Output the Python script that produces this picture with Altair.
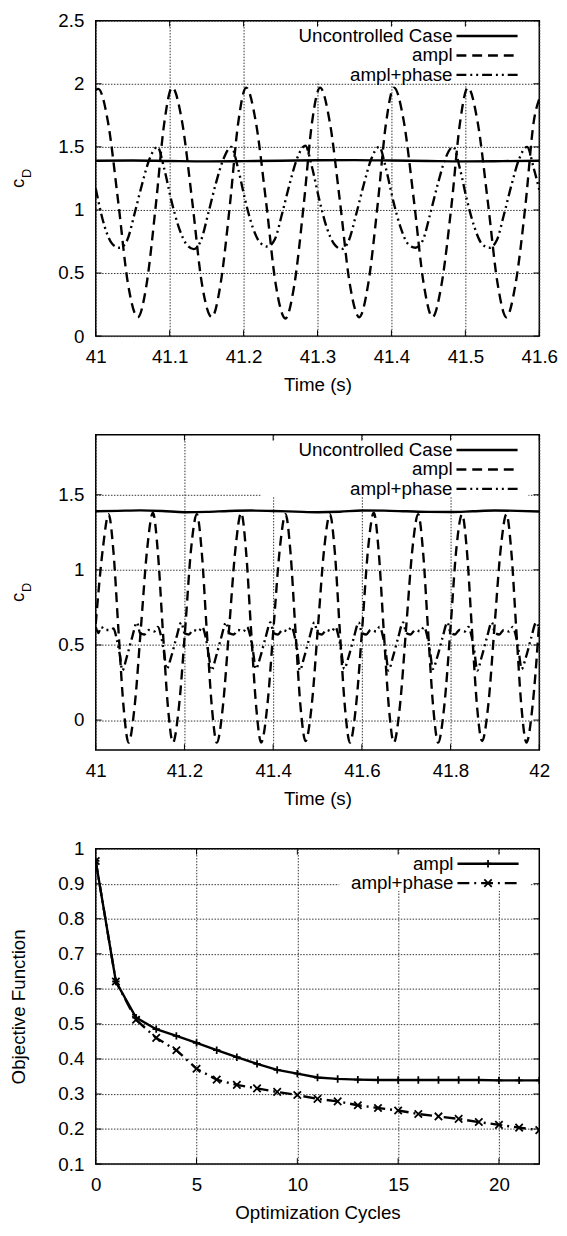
import altair as alt
import pandas as pd

FONT = "Liberation Sans"
FS = 19
W, H = 450, 320
LW = 2.4

# ---------------- Panel 1 data (cD vs time, 41 - 41.6 s) ----------------
p1_unc_t = [41.00, 41.05, 41.10, 41.15, 41.20, 41.25, 41.30, 41.35, 41.40, 41.45, 41.50, 41.55, 41.60]
p1_unc_cd = [1.390, 1.392, 1.388, 1.385, 1.387, 1.390, 1.394, 1.395, 1.392, 1.388, 1.385, 1.387, 1.390]

p1_ampl_t = [41.000, 41.0035, 41.0165, 41.0305, 41.0435, 41.0570, 41.0685, 41.0815, 41.0925,
             41.1035, 41.1165, 41.1305, 41.1435, 41.1570, 41.1685, 41.1815, 41.1925,
             41.2035, 41.2165, 41.2305, 41.2435, 41.2565, 41.2685, 41.2815, 41.2925,
             41.3035, 41.3165, 41.3305, 41.3435, 41.3565, 41.3685, 41.3815, 41.3925,
             41.4035, 41.4165, 41.4305, 41.4435, 41.4555, 41.4675, 41.4815, 41.4925,
             41.5035, 41.5165, 41.5305, 41.5435, 41.5555, 41.5675, 41.5815, 41.5925, 41.6000]
p1_ampl_cd = [1.95, 1.96, 1.70, 1.06, 0.42, 0.15, 0.40, 1.05, 1.68,
              1.97, 1.71, 1.07, 0.42, 0.15, 0.40, 1.04, 1.68,
              1.97, 1.70, 1.06, 0.41, 0.14, 0.40, 1.05, 1.69,
              1.97, 1.70, 1.06, 0.42, 0.15, 0.41, 1.05, 1.68,
              1.97, 1.71, 1.07, 0.42, 0.15, 0.40, 1.05, 1.68,
              1.97, 1.70, 1.06, 0.42, 0.15, 0.40, 1.05, 1.70, 1.88]

p1_ap_t = [41.000, 41.0125, 41.0225,
           41.0325, 41.0425, 41.0525, 41.0625, 41.0725, 41.0835, 41.0925, 41.1025, 41.1125, 41.1225,
           41.1325, 41.1425, 41.1525, 41.1625, 41.1725, 41.1835, 41.1925, 41.2025, 41.2125, 41.2225,
           41.2325, 41.2425, 41.2525, 41.2625, 41.2725, 41.2835, 41.2925, 41.3025, 41.3125, 41.3225,
           41.3325, 41.3425, 41.3525, 41.3625, 41.3725, 41.3835, 41.3925, 41.4025, 41.4125, 41.4225,
           41.4325, 41.4425, 41.4525, 41.4625, 41.4725, 41.4835, 41.4925, 41.5025, 41.5125, 41.5225,
           41.5325, 41.5425, 41.5525, 41.5625, 41.5725, 41.5835, 41.5925, 41.6000]
p1_ap_cd = [1.17, 0.86, 0.73,
            0.70, 0.76, 0.97, 1.20, 1.40, 1.50, 1.33, 1.07, 0.86, 0.73,
            0.69, 0.76, 0.98, 1.21, 1.40, 1.50, 1.33, 1.07, 0.86, 0.74,
            0.71, 0.77, 0.98, 1.21, 1.41, 1.51, 1.34, 1.08, 0.86, 0.73,
            0.69, 0.76, 0.97, 1.20, 1.40, 1.50, 1.33, 1.07, 0.86, 0.73,
            0.70, 0.76, 0.97, 1.20, 1.40, 1.50, 1.33, 1.07, 0.86, 0.73,
            0.70, 0.76, 0.97, 1.20, 1.40, 1.50, 1.33, 1.16]

# ---------------- Panel 2 data (cD vs time, 41 - 42 s) ----------------
p2_unc_t = [41.00, 41.05, 41.10, 41.15, 41.20, 41.25, 41.30, 41.35, 41.40, 41.45, 41.50,
            41.55, 41.60, 41.65, 41.70, 41.75, 41.80, 41.85, 41.90, 41.95, 42.00]
p2_unc_cd = [1.390, 1.393, 1.396, 1.392, 1.384, 1.386, 1.392, 1.395, 1.392, 1.388, 1.384,
             1.387, 1.395, 1.394, 1.390, 1.386, 1.385, 1.390, 1.395, 1.393, 1.389]

p2_ampl_t = [41.000, 41.016,
             41.029, 41.040, 41.051, 41.063, 41.074, 41.088, 41.102, 41.116,
             41.129, 41.140, 41.151, 41.163, 41.174, 41.188, 41.202, 41.215,
             41.228, 41.239, 41.250, 41.262, 41.273, 41.287, 41.301, 41.315,
             41.328, 41.339, 41.350, 41.362, 41.373, 41.387, 41.401, 41.415,
             41.428, 41.439, 41.450, 41.462, 41.473, 41.487, 41.501, 41.515,
             41.528, 41.539, 41.550, 41.562, 41.573, 41.587, 41.601, 41.614,
             41.627, 41.638, 41.649, 41.661, 41.672, 41.686, 41.700, 41.714,
             41.727, 41.738, 41.749, 41.761, 41.772, 41.786, 41.800, 41.813,
             41.826, 41.837, 41.848, 41.860, 41.871, 41.885, 41.899, 41.913,
             41.926, 41.937, 41.948, 41.960, 41.971, 41.985, 42.000]
p2_ampl_cd = [0.64, 1.14,
              1.37, 1.12, 0.61, 0.08, -0.15, 0.10, 0.62, 1.14,
              1.38, 1.12, 0.61, 0.08, -0.15, 0.10, 0.62, 1.14,
              1.37, 1.12, 0.61, 0.08, -0.15, 0.10, 0.62, 1.14,
              1.38, 1.12, 0.61, 0.08, -0.15, 0.10, 0.62, 1.14,
              1.37, 1.12, 0.61, 0.08, -0.14, 0.10, 0.62, 1.14,
              1.37, 1.12, 0.61, 0.08, -0.15, 0.10, 0.62, 1.14,
              1.38, 1.12, 0.61, 0.08, -0.15, 0.10, 0.62, 1.14,
              1.37, 1.12, 0.61, 0.08, -0.15, 0.10, 0.62, 1.14,
              1.37, 1.12, 0.61, 0.08, -0.14, 0.10, 0.62, 1.14,
              1.37, 1.12, 0.61, 0.08, -0.15, 0.10, 0.66]

p2_ap_t = [41.000, 41.006, 41.012, 41.022, 41.032, 41.040, 41.048, 41.054,
           41.060, 41.070, 41.082, 41.093, 41.100, 41.110, 41.120, 41.132, 41.140, 41.148, 41.154,
           41.160, 41.170, 41.182, 41.193, 41.200, 41.210, 41.220, 41.232, 41.240, 41.248, 41.254,
           41.261, 41.271, 41.283, 41.294, 41.301, 41.311, 41.321, 41.333, 41.341, 41.349, 41.355,
           41.361, 41.371, 41.383, 41.394, 41.401, 41.411, 41.421, 41.433, 41.441, 41.449, 41.455,
           41.460, 41.470, 41.482, 41.493, 41.500, 41.510, 41.520, 41.532, 41.540, 41.548, 41.554,
           41.560, 41.570, 41.582, 41.593, 41.600, 41.610, 41.620, 41.632, 41.640, 41.648, 41.654,
           41.660, 41.670, 41.682, 41.693, 41.700, 41.710, 41.720, 41.732, 41.740, 41.748, 41.754,
           41.760, 41.770, 41.782, 41.793, 41.800, 41.810, 41.820, 41.832, 41.840, 41.848, 41.854,
           41.860, 41.870, 41.882, 41.893, 41.900, 41.910, 41.920, 41.932, 41.940, 41.948, 41.954,
           41.960, 41.970, 41.982, 41.993, 42.000]
p2_ap_cd = [0.62, 0.58, 0.62, 0.60, 0.60, 0.61, 0.53, 0.44,
            0.33, 0.42, 0.55, 0.65, 0.58, 0.57, 0.60, 0.59, 0.62, 0.55, 0.45,
            0.34, 0.42, 0.55, 0.65, 0.58, 0.57, 0.60, 0.59, 0.62, 0.55, 0.45,
            0.33, 0.42, 0.55, 0.65, 0.58, 0.57, 0.60, 0.59, 0.62, 0.55, 0.45,
            0.34, 0.42, 0.55, 0.65, 0.58, 0.57, 0.60, 0.59, 0.62, 0.55, 0.45,
            0.33, 0.42, 0.55, 0.65, 0.58, 0.57, 0.60, 0.59, 0.62, 0.55, 0.45,
            0.34, 0.42, 0.55, 0.65, 0.58, 0.57, 0.60, 0.59, 0.62, 0.55, 0.45,
            0.33, 0.42, 0.55, 0.65, 0.58, 0.57, 0.60, 0.59, 0.62, 0.55, 0.45,
            0.34, 0.42, 0.55, 0.65, 0.58, 0.57, 0.60, 0.59, 0.62, 0.55, 0.45,
            0.33, 0.42, 0.55, 0.65, 0.58, 0.57, 0.60, 0.59, 0.62, 0.55, 0.45,
            0.34, 0.42, 0.55, 0.65, 0.60]

# ---------------- Panel 3 data (objective function vs cycles) ----------------
cycles = [0, 1, 2, 3, 4, 5, 6, 7, 8, 9, 10, 11, 12, 13, 14, 15, 16, 17, 18, 19, 20, 21, 22]
obj_ampl = [0.965, 0.621, 0.518, 0.485, 0.466, 0.446, 0.425, 0.405, 0.386, 0.369, 0.358, 0.347,
            0.343, 0.341, 0.340, 0.340, 0.340, 0.340, 0.340, 0.340, 0.339, 0.339, 0.339]
obj_ap = [0.965, 0.621, 0.512, 0.460, 0.425, 0.372, 0.341, 0.326, 0.316, 0.306, 0.297, 0.286,
          0.279, 0.268, 0.260, 0.253, 0.243, 0.236, 0.229, 0.220, 0.212, 0.204, 0.197]

series_names = ["Uncontrolled Case", "ampl", "ampl+phase"]
p3_names = ["ampl", "ampl+phase"]

p1_xticks = [41, 41.1, 41.2, 41.3, 41.4, 41.5, 41.6]
p1_yticks = [0, 0.5, 1, 1.5, 2, 2.5]
p2_xticks = [41, 41.2, 41.4, 41.6, 41.8, 42]
p2_yticks = [0, 0.5, 1, 1.5]
p3_xticks = [0, 5, 10, 15, 20]
p3_yticks = [0.1, 0.2, 0.3, 0.4, 0.5, 0.6, 0.7, 0.8, 0.9, 1]

DASH_AMPL = [10, 6]
DASH_AP = [10, 4, 2, 4, 2, 4]
DASH_AP3 = [12, 5, 2, 5]
PLUS = "M-1,0L1,0M0,-1L0,1"
CROSS = "M-1,-1L1,1M-1,1L1,-1"
TICK = 6

one = pd.DataFrame({"k": [0]})


def line(t, v, xenc, yenc, dash=None, interp="monotone"):
    kw = dict(color="black", strokeWidth=LW, interpolate=interp, clip=True)
    if dash:
        kw["strokeDash"] = dash
    return alt.Chart(pd.DataFrame({"x": t, "y": v})).mark_line(**kw).encode(x=xenc, y=yenc)


def inner_ticks(xt, yt, xenc, yenc):
    """gnuplot-style inward ticks on all four borders."""
    dx = pd.DataFrame({"x": xt})
    dy = pd.DataFrame({"y": yt})
    kw = dict(color="black", strokeWidth=1)
    return [
        alt.Chart(dx).mark_rule(**kw).encode(x=xenc, y=alt.value(H - TICK), y2=alt.value(H)),
        alt.Chart(dx).mark_rule(**kw).encode(x=xenc, y=alt.value(0), y2=alt.value(TICK)),
        alt.Chart(dy).mark_rule(**kw).encode(y=yenc, x=alt.value(0), x2=alt.value(TICK)),
        alt.Chart(dy).mark_rule(**kw).encode(y=yenc, x=alt.value(W - TICK), x2=alt.value(W)),
    ]


def box(x1, x2, y1, y2):
    return alt.Chart(one).mark_rect(color="white").encode(
        x=alt.value(x1), x2=alt.value(x2), y=alt.value(y1), y2=alt.value(y2))


def label(txt, x, y, size=FS, angle=None, align="right", baseline="middle"):
    kw = dict(text=txt, align=align, baseline=baseline, font=FONT, fontSize=size, color="black")
    if angle is not None:
        kw["angle"] = angle
    return alt.Chart(one).mark_text(**kw).encode(x=alt.value(x), y=alt.value(y))


def sample(x1, x2, y, dash=None):
    kw = dict(color="black", strokeWidth=LW)
    if dash:
        kw["strokeDash"] = dash
    return alt.Chart(one).mark_rule(**kw).encode(x=alt.value(x1), x2=alt.value(x2), y=alt.value(y))


def marker(shape, x, y):
    return alt.Chart(one).mark_point(shape=shape, size=56, filled=False, color="black",
                                     strokeWidth=1.8, opacity=1).encode(x=alt.value(x), y=alt.value(y))


def spacer_top():
    # invisible element: same top overhang as a panel whose top tick is labelled
    return alt.Chart(one).mark_rule(opacity=0, strokeWidth=1).encode(
        x=alt.value(0), x2=alt.value(1), y=alt.value(-9))


def cd_title():
    return [label("c", -73, H / 2 + 5, angle=270, align="center", baseline="alphabetic"),
            label("D", -66, H / 2 - 5, size=13, angle=270, align="center", baseline="alphabetic")]


LEG_X = 362
LEG_S1, LEG_S2 = 366, 428
ROWS = [15.5, 35.3, 55]
DASHES = [None, DASH_AMPL, DASH_AP]

# ---------------- Panel 1 ----------------
x1 = alt.X("x:Q", scale=alt.Scale(domain=[41, 41.6], nice=False, zero=False),
           axis=alt.Axis(values=p1_xticks, format="~g", title="Time (s)"))
y1 = alt.Y("y:Q", scale=alt.Scale(domain=[0, 2.5], nice=False, zero=False),
           axis=alt.Axis(values=p1_yticks, format="~g", title=None))
layers1 = inner_ticks(p1_xticks, p1_yticks, x1, y1) + [
    box(168, 438, TICK + 0.5, 62),
    line(p1_unc_t, p1_unc_cd, x1, y1),
    line(p1_ampl_t, p1_ampl_cd, x1, y1, DASH_AMPL),
    line(p1_ap_t, p1_ap_cd, x1, y1, DASH_AP)]
for name, ry, d in zip(series_names, ROWS, DASHES):
    layers1 += [label(name, LEG_X, ry), sample(LEG_S1, LEG_S2, ry, d)]
layers1 += cd_title()
panel1 = alt.layer(*layers1).properties(width=W, height=H)

# ---------------- Panel 2 ----------------
x2 = alt.X("x:Q", scale=alt.Scale(domain=[41, 42], nice=False, zero=False),
           axis=alt.Axis(values=p2_xticks, format="~g", title="Time (s)"))
y2 = alt.Y("y:Q", scale=alt.Scale(domain=[-0.2, 1.9], nice=False, zero=False),
           axis=alt.Axis(values=p2_yticks, format="~g", title=None))
layers2 = [spacer_top()] + inner_ticks(p2_xticks, p2_yticks, x2, y2) + [
    box(168, 439, TICK + 0.5, 63),
    line(p2_unc_t, p2_unc_cd, x2, y2),
    line(p2_ampl_t, p2_ampl_cd, x2, y2, DASH_AMPL),
    line(p2_ap_t, p2_ap_cd, x2, y2, DASH_AP)]
for name, ry, d in zip(series_names, ROWS, DASHES):
    layers2 += [label(name, LEG_X, ry), sample(LEG_S1, LEG_S2, ry, d)]
layers2 += cd_title()
panel2 = alt.layer(*layers2).properties(width=W, height=H)

# ---------------- Panel 3 ----------------
x3 = alt.X("x:Q", scale=alt.Scale(domain=[0, 22], nice=False, zero=False),
           axis=alt.Axis(values=p3_xticks, format="~g", title="Optimization Cycles"))
y3 = alt.Y("y:Q", scale=alt.Scale(domain=[0.1, 1], nice=False, zero=False),
           axis=alt.Axis(values=p3_yticks, format="~g", title="Objective Function", titlePadding=30))


def pts(t, v, shape):
    return alt.Chart(pd.DataFrame({"x": t, "y": v})).mark_point(
        shape=shape, size=56, filled=False, color="black", strokeWidth=1.8, opacity=1, clip=True
    ).encode(x=x3, y=y3)


layers3 = inner_ticks(p3_xticks, p3_yticks, x3, y3) + [
    box(247, 441, TICK + 0.5, 43),
    line(cycles, obj_ampl, x3, y3, interp="linear"),
    pts(cycles, obj_ampl, PLUS),
    line(cycles, obj_ap, x3, y3, DASH_AP3, interp="linear"),
    pts(cycles, obj_ap, CROSS)]
for name, ry, d, shp in zip(p3_names, [15.3, 35.0], [None, DASH_AP3], [PLUS, CROSS]):
    layers3 += [label(name, LEG_X + 1, ry), sample(LEG_S1 + 1, LEG_S2 + 1, ry, d),
                marker(shp, (LEG_S1 + LEG_S2) / 2 + 1, ry)]
panel3 = alt.layer(*layers3).properties(width=W, height=H)

chart = alt.vconcat(panel1, panel2, panel3, spacing=30).properties(
    padding={"left": 0, "top": -6, "right": 0, "bottom": 0}
).configure_view(
    stroke="black", strokeWidth=1.5
).configure_axis(
    labelFont=FONT, labelFontSize=FS, labelColor="black", labelPadding=12,
    labelFlush=False, labelOverlap=False,
    titleFont=FONT, titleFontSize=FS, titleFontWeight="normal", titleColor="black", titlePadding=9,
    domain=False, ticks=False,
    gridColor="#333", gridDash=[1.5, 1.5], gridWidth=1, gridOpacity=1
)

chart.save("out.html", embed_options={"renderer": "svg", "actions": False})
